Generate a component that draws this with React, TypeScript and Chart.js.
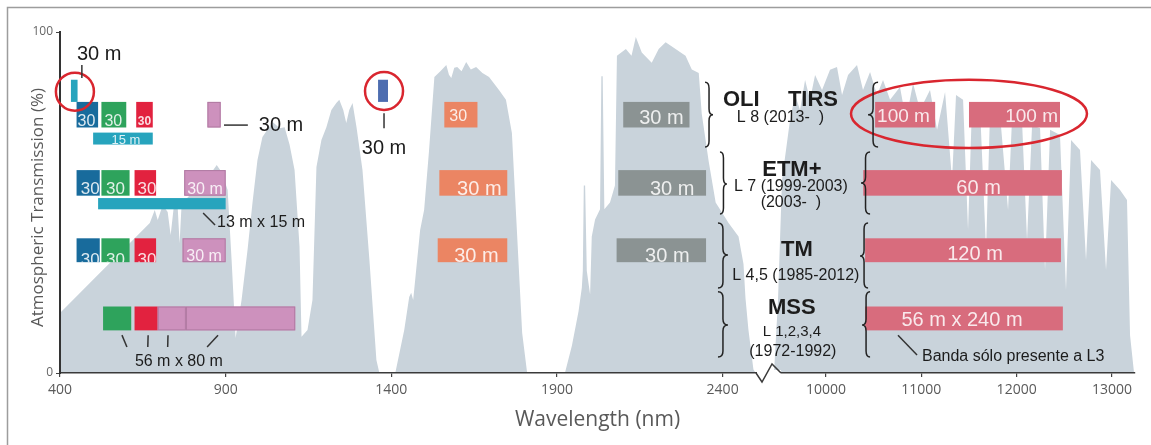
import React, { useEffect, useRef } from 'react';
import { Chart, registerables } from 'chart.js';

Chart.register(...registerables);

// ---- Atmospheric transmission (%), reflective region (nm) ----
const REFLECTIVE_NM = [
  400, 520, 611, 671, 686, 695, 710, 725, 734, 743, 755, 761, 767, 792, 822, 852, 873, 888, 906, 918,
  930, 948, 966, 981, 996, 1011, 1042, 1063, 1078, 1093, 1108, 1123, 1129, 1147, 1162, 1174, 1189, 1204,
  1219, 1234, 1243, 1255, 1264, 1273, 1283, 1295, 1313, 1334, 1355, 1364, 1412, 1439, 1454, 1460, 1466,
  1475, 1487, 1499, 1514, 1530, 1548, 1566, 1574, 1581, 1590, 1599, 1612, 1626, 1640, 1656, 1675, 1695,
  1725, 1746, 1764, 1777, 1795, 1810, 1924, 1945, 1965, 1975, 1978, 1981, 1985, 1990, 2000, 2005, 2015,
  2030, 2034, 2038, 2043, 2060, 2075, 2081, 2108, 2125, 2138, 2156, 2186, 2207, 2228, 2258, 2288, 2307,
  2328, 2337, 2358, 2379, 2418, 2448, 2463, 2469, 2478, 2493, 2500,
];
const REFLECTIVE_T = [
  17.6, 29.3, 38.1, 44.0, 47.8, 44.9, 49.3, 47.2, 40.5, 48.4, 49.0, 38.0, 49.5, 52.2, 55.1, 58.1, 61.0, 58.9, 53.7, 33.1,
  10.3, 21.4, 36.1, 49.9, 62.5, 69.2, 73.6, 71.8, 72.1, 66.9, 59.5, 37.0, 10.6, 12.6, 21.4, 60.4, 68.3, 72.1,
  77.1, 79.2, 80.1, 77.1, 73.3, 77.1, 79.2, 72.1, 59.5, 33.1, 3.8, 0, 0, 12.6, 22.3, 23.5, 21.4,
  30.2, 41.9, 47.8, 65.4, 86.8, 88.5, 90.3, 87.5, 86.5, 89.5, 89.7, 88.5, 91.2, 89.0, 89.7, 88.0, 86.8,
  83.0, 80.1, 70.4, 45.7, 11.7, 0, 0, 8, 18, 25, 30, 55, 55, 30, 23, 40, 45,
  48, 87, 87, 48, 50, 55, 93, 95, 93, 98.5, 94, 91, 95, 97, 95, 93, 89,
  88, 76, 62, 50, 44, 40, 32, 22, 12.6, 1, 0,
];

// ---- Atmospheric transmission (%), thermal region (nm) ----
const THERMAL_NM = [
  9454, 9496, 9538, 9622, 9675, 9727, 9780, 9832, 9885, 9958, 10042, 10115, 10168, 10231, 10325, 10388,
  10462, 10535, 10598, 10672, 10776, 10839, 10913, 10986, 11091, 11165, 11249, 11322, 11364, 11438, 11490,
  11532, 11616, 11679, 11721, 11826, 11910, 11952, 12057, 12109, 12162, 12246, 12298, 12351, 12455, 12518,
  12571, 12665, 12728, 12781, 12875, 12938, 12991, 13085, 13158, 13190, 13232,
];
const THERMAL_T = [
  0, 21.4, 56.6, 74.2, 81.5, 77.1, 85.9, 80.1, 87.4, 83.0, 88.9, 89.7, 81.5, 87.4, 90.3, 83.0,
  88.3, 81.5, 85.9, 80.1, 83.9, 74.2, 85.0, 77.1, 83.0, 71.3, 82.4, 56.6, 81.5, 80.1, 41.9,
  78.6, 77.7, 36.1, 76.5, 75.7, 47.8, 74.8, 73.6, 39.0, 72.7, 71.8, 30.2, 71.3, 69.8, 24.3,
  68.3, 65.4, 33.1, 62.5, 59.5, 30.2, 56.6, 53.7, 50.7, 11.1, 0,
];

// ---- Axis ticks ----
const X_TICKS_REFLECTIVE = [400, 900, 1400, 1900, 2400];
const X_TICKS_THERMAL = [10000, 11000, 12000, 13000];
const Y_TICKS = [0, 100];
const X_RANGE_REFLECTIVE = [400, 2543];
const X_RANGE_THERMAL = [9412, 13242];

// ---- Sensor bands: [from nm, to nm, resolution label] ----
type Band = [number, number, string];
const L8_BANDS: Band[] = [
  [450, 515, '30'], [525, 600, '30'], [630, 680, '30'], [845, 885, ''],
  [1560, 1660, '30'], [2100, 2300, '30 m'], [10515, 11145, '100 m'], [11500, 12455, '100 m'],
];
const L8_SPAN = [72, 79.5];
const L8_EXTRA: Band[] = [[433, 453, ''], [1360, 1390, '']];
const L8_EXTRA_SPAN = [79.5, 86];
const L8_PAN: Band[] = [[500, 680, '15 m']];
const L8_PAN_SPAN = [67, 70.5];

const L7_BANDS: Band[] = [
  [450, 520, '30'], [525, 610, '30'], [625, 690, '30'], [775, 900, '30 m'],
  [1545, 1750, '30 m'], [2085, 2350, '30 m'], [10390, 12475, '60 m'],
];
const L7_SPAN = [52, 59.5];
const L7_PAN: Band[] = [[515, 900, '']];
const L7_PAN_SPAN = [48, 51.3];

const L45_BANDS: Band[] = [
  [450, 520, '30'], [525, 610, '30'], [625, 690, '30'], [770, 900, '30 m'],
  [1540, 1750, '30 m'], [2080, 2350, '30 m'], [10410, 12465, '120 m'],
];
const L45_SPAN = [32.5, 39.5];

const MSS_BANDS: Band[] = [
  [530, 615, ''], [625, 695, ''], [695, 780, ''], [780, 1110, ''], [10410, 12485, '56 m x 240 m'],
];
const MSS_SPAN = [12.5, 19.5];

// ---- Styles ----
const GRAY_FILL = '#c9d3db';
const C_BLUE = '#186b9c';
const C_GREEN = '#2ea35c';
const C_RED = '#e2223f';
const C_CYAN = '#27a4bd';
const C_PINK = '#cd91bd';
const C_SLATE = '#4d6db0';
const C_ORANGE = '#eb8563';
const C_GRAY = '#8b9393';
const C_THERM = '#d86c7d';
const C_CIRCLE = '#d9262f';
const TEXT_IN = 'rgba(255,255,255,0.85)';
const INK = '#1c1c1c';
const SANS = '"Liberation Sans", Arial, sans-serif';
const AXIS_FONT = '"Open Sans", sans-serif';

const L8_COLORS = [C_BLUE, C_GREEN, C_RED, C_PINK, C_ORANGE, C_GRAY, C_THERM, C_THERM];
const L8_EXTRA_COLORS = [C_CYAN, C_SLATE];
const PAN_COLORS = [C_CYAN];
const L7_COLORS = [C_BLUE, C_GREEN, C_RED, C_PINK, C_ORANGE, C_GRAY, C_THERM];
const MSS_COLORS = [C_GREEN, C_RED, C_PINK, C_PINK, C_THERM];

// [align, font size, bold, dx, baseline offset from box bottom]
type TextSpec = [CanvasTextAlign, number, boolean, number, number] | null;
const L8_TEXT: TextSpec[] = [
  ['left', 16, false, 1, 1], ['left', 16, false, 3, 1], ['center', 12, true, 0, 2], null,
  ['left', 16, false, 5, 6], ['center', 20, false, 5, 3], ['left', 19, false, 2, 5], ['right', 19, false, -2, 5],
];
const PAN_TEXT: TextSpec[] = [['center', 13, false, 3, 1]];
const L7_TEXT: TextSpec[] = [
  ['right', 17, false, 0, 2], ['center', 17, false, 0, 2], ['left', 17, false, 3, 2], ['center', 16, false, 0, 2],
  ['center', 20, false, 6, 1], ['center', 20, false, 10, 1], ['center', 20, false, 16, 2],
];
const L45_TEXT: TextSpec[] = [
  ['right', 17, false, 0, -3], ['center', 17, false, 0, -3], ['left', 17, false, 3, -3], ['center', 16, false, 0, 1],
  ['center', 20, false, 4, 0], ['center', 20, false, 6, 0], ['center', 20, false, 12, 2],
];
const MSS_TEXT: TextSpec[] = [null, null, null, null, ['center', 20, false, -2, 4]];

function brace(ctx: CanvasRenderingContext2D, xFlat: number, xTip: number, yTop: number, yBot: number, yTip: number) {
  const xm = (xFlat + xTip) / 2;
  const r = 6;
  ctx.beginPath();
  ctx.moveTo(xFlat, yTop);
  ctx.quadraticCurveTo(xm, yTop, xm, yTop + r);
  ctx.lineTo(xm, yTip - r);
  ctx.quadraticCurveTo(xm, yTip, xTip, yTip);
  ctx.quadraticCurveTo(xm, yTip, xm, yTip + r);
  ctx.lineTo(xm, yBot - r);
  ctx.quadraticCurveTo(xm, yBot, xFlat, yBot);
  ctx.stroke();
}

const bandsPlugin = {
  id: 'bands',
  afterDatasetsDraw(chart: any) {
    const ctx: CanvasRenderingContext2D = chart.ctx;
    const X = (v: number) => (v > 5000 ? chart.scales.x2 : chart.scales.x).getPixelForValue(v);
    const Y = (v: number) => chart.scales.y.getPixelForValue(v);
    const drawRow = (bands: Band[], span: number[], colors: string[], texts: TextSpec[] | null) => {
      const yb = Y(span[0]);
      const yt = Y(span[1]);
      bands.forEach((b, i) => {
        const x0 = X(b[0]);
        const x1 = X(b[1]);
        ctx.fillStyle = colors[i];
        ctx.fillRect(x0, yt, x1 - x0, yb - yt);
        if (colors[i] === C_PINK) {
          ctx.strokeStyle = '#b07aa2';
          ctx.lineWidth = 1;
          ctx.strokeRect(x0 + 0.5, yt + 0.5, x1 - x0 - 1, yb - yt - 1);
        }
        const t = texts ? texts[i] : null;
        if (t && b[2]) {
          const [align, size, bold, dx, off] = t;
          ctx.save();
          ctx.beginPath();
          ctx.rect(x0, yt, x1 - x0, yb - yt);
          ctx.clip();
          ctx.font = `${bold ? 'bold ' : ''}${size}px ${SANS}`;
          ctx.fillStyle = TEXT_IN;
          ctx.textAlign = align;
          ctx.textBaseline = 'alphabetic';
          const tx = align === 'left' ? x0 + dx : align === 'right' ? x1 + dx : (x0 + x1) / 2 + dx;
          ctx.fillText(b[2], tx, yb - off);
          ctx.restore();
        }
      });
    };
    drawRow(L8_BANDS, L8_SPAN, L8_COLORS, L8_TEXT);
    drawRow(L8_EXTRA, L8_EXTRA_SPAN, L8_EXTRA_COLORS, null);
    drawRow(L8_PAN, L8_PAN_SPAN, PAN_COLORS, PAN_TEXT);
    drawRow(L7_BANDS, L7_SPAN, L7_COLORS, L7_TEXT);
    drawRow(L7_PAN, L7_PAN_SPAN, PAN_COLORS, null);
    drawRow(L45_BANDS, L45_SPAN, L7_COLORS, L45_TEXT);
    drawRow(MSS_BANDS, MSS_SPAN, MSS_COLORS, MSS_TEXT);
  },
};

const annotationPlugin = {
  id: 'annotations',
  afterDraw(chart: any) {
    const ctx: CanvasRenderingContext2D = chart.ctx;
    const sx = chart.scales.x;
    const sx2 = chart.scales.x2;
    const X = (v: number) => (v > 5000 ? sx2 : sx).getPixelForValue(v);
    const Y = (v: number) => chart.scales.y.getPixelForValue(v);
    const area = chart.chartArea;
    ctx.save();

    // frame
    ctx.strokeStyle = '#9d9d9d';
    ctx.lineWidth = 1.5;
    ctx.beginPath();
    ctx.moveTo(7.5, chart.height);
    ctx.lineTo(7.5, 7.5);
    ctx.lineTo(chart.width, 7.5);
    ctx.stroke();

    // axis break zigzag
    const xb = sx.right;
    const yb = area.bottom;
    ctx.fillStyle = '#ffffff';
    ctx.fillRect(xb - 13, yb - 3, 24, 6);
    ctx.strokeStyle = '#3a3a3a';
    ctx.lineWidth = 1.5;
    ctx.beginPath();
    ctx.moveTo(xb - 14, yb);
    ctx.lineTo(xb - 8, yb + 9);
    ctx.lineTo(xb + 2, yb - 9);
    ctx.lineTo(xb + 11, yb);
    ctx.stroke();

    // axis titles
    ctx.fillStyle = '#595959';
    ctx.font = `21px ${AXIS_FONT}`;
    ctx.textAlign = 'center';
    ctx.textBaseline = 'middle';
    ctx.fillText('Wavelength (nm)', (area.left + area.right) / 2, area.bottom + 47);
    ctx.save();
    ctx.translate(area.left - 22, (area.top + area.bottom) / 2 + 5);
    ctx.rotate(-Math.PI / 2);
    ctx.font = `17px ${AXIS_FONT}`;
    ctx.fillText('Atmospheric Transmission (%)', 0, 0);
    ctx.restore();

    // circles and ellipse
    ctx.strokeStyle = C_CIRCLE;
    ctx.lineWidth = 2.5;
    ctx.beginPath();
    ctx.arc(X(445), Y(82.5), 19, 0, Math.PI * 2);
    ctx.stroke();
    ctx.beginPath();
    ctx.arc(X(1378), Y(82.7), 19, 0, Math.PI * 2);
    ctx.stroke();
    ctx.beginPath();
    ctx.ellipse((X(10262) + X(12738)) / 2, (Y(66) + Y(86)) / 2, (X(12738) - X(10262)) / 2, (Y(66) - Y(86)) / 2, 0, 0, Math.PI * 2);
    ctx.stroke();

    // leader lines
    ctx.strokeStyle = '#333333';
    ctx.lineWidth = 1.5;
    const seg = (a: number, b: number, c: number, d: number) => {
      ctx.beginPath();
      ctx.moveTo(X(a), Y(b));
      ctx.lineTo(X(c), Y(d));
      ctx.stroke();
    };
    seg(466, 90.3, 466, 86.5);
    seg(895, 72.7, 967, 72.7);
    seg(1378, 76.2, 1378, 71.8);
    seg(832, 46.9, 868, 43.4);
    seg(587, 11.1, 602, 7.6);
    seg(666, 11.1, 665, 7.6);
    seg(726, 11.1, 725, 7.6);
    seg(877, 11.1, 844, 7.6);
    seg(10755, 11.1, 10955, 5.3);

    // annotation text
    ctx.fillStyle = INK;
    ctx.textBaseline = 'middle';
    ctx.font = `20px ${SANS}`;
    ctx.textAlign = 'left';
    ctx.fillText('30 m', X(451), Y(93.3));
    ctx.fillText('30 m', X(1000), Y(72.7));
    ctx.textAlign = 'center';
    ctx.fillText('30 m', X(1378), Y(65.7));
    ctx.font = `16px ${SANS}`;
    ctx.textAlign = 'left';
    ctx.fillText('13 m x 15 m', X(874), Y(44));
    ctx.fillText('56 m x 80 m', X(626), Y(3.2));
    ctx.fillText('Banda sólo presente a L3', X(11007), Y(4.7));

    // braces
    ctx.strokeStyle = '#222222';
    ctx.lineWidth = 1.5;
    brace(ctx, sx.getPixelForValue(2347), sx.getPixelForValue(2371), Y(85.3), Y(66.3), Y(75.7));
    brace(ctx, sx.getPixelForValue(2392), sx.getPixelForValue(2413), Y(64.8), Y(46.6), Y(55.4));
    brace(ctx, sx.getPixelForValue(2386), sx.getPixelForValue(2416), Y(44.0), Y(24.9), Y(34.6));
    brace(ctx, sx.getPixelForValue(2386), sx.getPixelForValue(2416), Y(23.8), Y(4.7), Y(14.1));
    brace(ctx, X(10546), X(10441), Y(85.3), Y(66.3), Y(75.7));
    brace(ctx, X(10462), X(10367), Y(64.8), Y(46.6), Y(55.7));
    brace(ctx, X(10441), X(10357), Y(44.0), Y(24.9), Y(34.3));
    brace(ctx, X(10462), X(10378), Y(23.8), Y(4.7), Y(14.1));

    // sensor labels
    const lx = (v: number) => sx.getPixelForValue(v);
    ctx.fillStyle = INK;
    ctx.font = `bold 22px ${SANS}`;
    ctx.textAlign = 'left';
    ctx.fillText('OLI', lx(2401), Y(80.1));
    ctx.fillText('TIRS', lx(2597), Y(80.1));
    ctx.textAlign = 'center';
    ctx.fillText('ETM+', lx(2609), Y(59.5));
    ctx.fillText('TM', lx(2624), Y(36.1));
    ctx.fillText('MSS', lx(2609), Y(19.1));
    ctx.font = `16px ${SANS}`;
    ctx.textAlign = 'left';
    ctx.fillText('L 8 (2013-  )', lx(2443), Y(74.8));
    ctx.textAlign = 'center';
    ctx.fillText('L 7 (1999-2003)', lx(2606), Y(54.8));
    ctx.fillText('(2003-  )', lx(2606), Y(50.1));
    ctx.fillText('L 4,5 (1985-2012)', lx(2621), Y(28.7));
    ctx.font = `15px ${SANS}`;
    ctx.fillText('L 1,2,3,4', lx(2609), Y(12.0));
    ctx.font = `16px ${SANS}`;
    ctx.fillText('(1972-1992)', lx(2612), Y(6.2));

    ctx.restore();
  },
};

export default function App() {
  const canvasRef = useRef<HTMLCanvasElement | null>(null);

  useEffect(() => {
    if (!canvasRef.current) return;
    const reflective = REFLECTIVE_NM.map((x, i) => ({ x, y: REFLECTIVE_T[i] }));
    const thermal = THERMAL_NM.map((x, i) => ({ x, y: THERMAL_T[i] }));
    const xAxisCommon = {
      type: 'linear',
      position: 'bottom',
      stack: 'wavelength',
      afterFit: (s: any) => { s.height = 72; },
      grid: { drawOnChartArea: false, drawTicks: true, tickLength: 4, color: '#444444', lineWidth: 1.2 },
      border: { color: '#3a3a3a', width: 1.5, z: 1 },
      ticks: {
        color: '#5a5a5a', font: { family: AXIS_FONT, size: 14 }, padding: 5, maxRotation: 0, autoSkip: false,
        callback: (v: any) => String(v),
      },
    };
    const chart = new Chart(canvasRef.current, {
      type: 'line',
      data: {
        datasets: [
          {
            data: reflective, xAxisID: 'x', yAxisID: 'y', fill: 'origin',
            backgroundColor: GRAY_FILL, borderWidth: 0, pointRadius: 0, tension: 0,
          },
          {
            data: thermal, xAxisID: 'x2', yAxisID: 'y', fill: 'origin',
            backgroundColor: GRAY_FILL, borderWidth: 0, pointRadius: 0, tension: 0,
          },
        ],
      },
      options: {
        animation: false,
        responsive: true,
        maintainAspectRatio: false,
        layout: { padding: { top: 32, right: 16, bottom: 0, left: 0 } },
        plugins: { legend: { display: false }, tooltip: { enabled: false }, title: { display: false } },
        scales: {
          x: {
            ...xAxisCommon,
            stackWeight: 710,
            min: X_RANGE_REFLECTIVE[0],
            max: X_RANGE_REFLECTIVE[1],
            afterBuildTicks: (s: any) => { s.ticks = X_TICKS_REFLECTIVE.map((v) => ({ value: v })); },
          },
          x2: {
            ...xAxisCommon,
            stackWeight: 365,
            min: X_RANGE_THERMAL[0],
            max: X_RANGE_THERMAL[1],
            afterBuildTicks: (s: any) => { s.ticks = X_TICKS_THERMAL.map((v) => ({ value: v })); },
          },
          y: {
            type: 'linear',
            position: 'left',
            min: 0,
            max: 100,
            afterFit: (s: any) => { s.width = 60; },
            afterBuildTicks: (s: any) => { s.ticks = Y_TICKS.map((v) => ({ value: v })); },
            grid: { drawOnChartArea: false, drawTicks: true, tickLength: 4, color: '#444444' },
            border: { color: '#333333', width: 2, dash: [4, 3], z: 1 },
            ticks: { color: '#666666', font: { family: AXIS_FONT, size: 12 }, padding: 3 },
          },
        },
      } as any,
      plugins: [bandsPlugin, annotationPlugin],
    });
    return () => chart.destroy();
  }, []);

  return (
    <div style={{ position: 'absolute', left: 0, top: 0, width: 1151, height: 445, background: '#ffffff' }}>
      <canvas ref={canvasRef} />
    </div>
  );
}
